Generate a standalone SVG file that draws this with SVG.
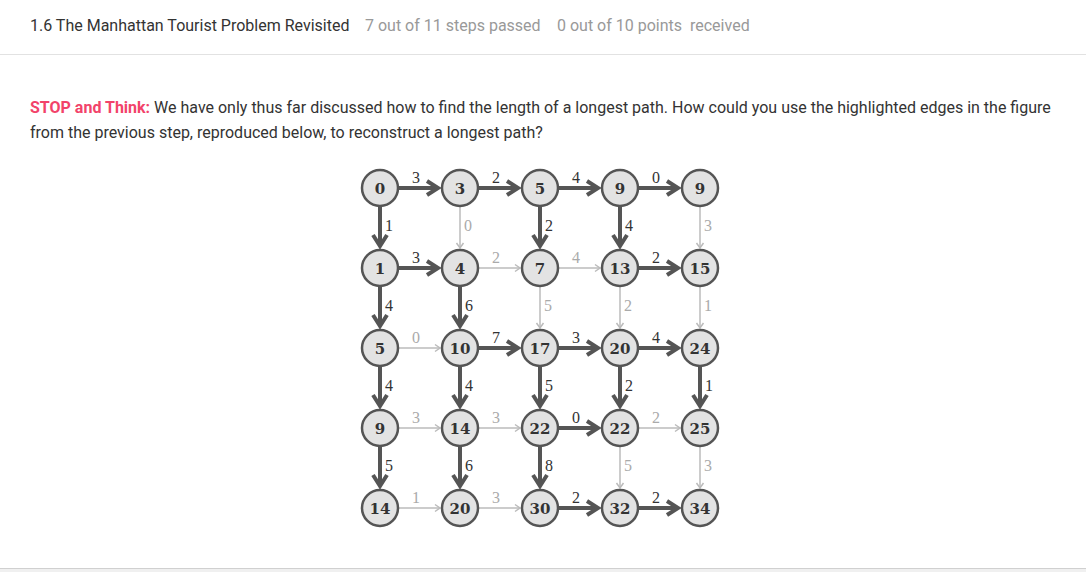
<svg xmlns="http://www.w3.org/2000/svg" width="1086" height="572" viewBox="0 0 1086 572">
<style>
.hdr{font-family:Roboto,"Liberation Sans",sans-serif;font-size:16px;fill:#333}
.gry{font-family:Roboto,"Liberation Sans",sans-serif;font-size:16px;fill:#999}
.par{font-family:Roboto,"Liberation Sans",sans-serif;font-size:16px;fill:#333}
.stop{font-weight:bold;fill:#f2436a}
.node circle{fill:#e3e3e3;stroke:#555;stroke-width:2.5}
.node text{font-family:"DejaVu Serif",serif;font-weight:bold;font-size:15px;fill:#333;text-anchor:middle}
.eb{stroke:#555;stroke-width:4;fill:none;marker-end:url(#ab)}
.el{stroke:#bbb;stroke-width:1.5;fill:none;marker-end:url(#al)}
.lb{font-family:"Liberation Serif",serif;font-size:16px;fill:#333}
.ll{font-family:"Liberation Serif",serif;font-size:16px;fill:#aaa}
.h{text-anchor:middle}
</style>
<defs>
<marker id="ab" markerUnits="userSpaceOnUse" markerWidth="30" markerHeight="30" refX="0" refY="0" orient="auto" overflow="visible"><path d="M-11,-7 L0,0 L-11,7" fill="none" stroke="#555" stroke-width="4"/></marker>
<marker id="al" markerUnits="userSpaceOnUse" markerWidth="20" markerHeight="20" refX="0" refY="0" orient="auto" overflow="visible"><path d="M-5,-3.5 L0,0 L-5,3.5" fill="none" stroke="#bbb" stroke-width="1.5"/></marker>
</defs>
<rect width="1086" height="572" fill="#fff"/>
<g id="header">
<text class="hdr" x="30" y="31">1.6 The Manhattan Tourist Problem Revisited</text>
<text class="gry" x="365" y="31">7 out of 11 steps passed</text>
<text class="gry" x="557" y="31">0 out of 10 points&#160; received</text>
<line x1="0" y1="54.5" x2="1086" y2="54.5" stroke="#e2e2e2" stroke-width="1"/>
</g>
<g id="question">
<text class="par" x="30" y="113"><tspan class="stop">STOP and Think:</tspan> We have only thus far discussed how to find the length of a longest path. How could you use the highlighted edges in the figure</text>
<text class="par" x="30" y="138">from the previous step, reproduced below, to reconstruct a longest path?</text>
</g>
<g id="connectors">
<line class="eb" x1="398" y1="188" x2="438" y2="188"/>
<line class="eb" x1="478" y1="188" x2="518" y2="188"/>
<line class="eb" x1="558" y1="188" x2="598" y2="188"/>
<line class="eb" x1="638" y1="188" x2="678" y2="188"/>
<line class="eb" x1="398" y1="268" x2="438" y2="268"/>
<line class="el" x1="478" y1="268" x2="520" y2="268"/>
<line class="el" x1="558" y1="268" x2="600" y2="268"/>
<line class="eb" x1="638" y1="268" x2="678" y2="268"/>
<line class="el" x1="398" y1="348" x2="440" y2="348"/>
<line class="eb" x1="478" y1="348" x2="518" y2="348"/>
<line class="eb" x1="558" y1="348" x2="598" y2="348"/>
<line class="eb" x1="638" y1="348" x2="678" y2="348"/>
<line class="el" x1="398" y1="428" x2="440" y2="428"/>
<line class="el" x1="478" y1="428" x2="520" y2="428"/>
<line class="eb" x1="558" y1="428" x2="598" y2="428"/>
<line class="el" x1="638" y1="428" x2="680" y2="428"/>
<line class="el" x1="398" y1="508" x2="440" y2="508"/>
<line class="el" x1="478" y1="508" x2="520" y2="508"/>
<line class="eb" x1="558" y1="508" x2="598" y2="508"/>
<line class="eb" x1="638" y1="508" x2="678" y2="508"/>
<line class="eb" x1="380" y1="206" x2="380" y2="246"/>
<line class="eb" x1="380" y1="286" x2="380" y2="326"/>
<line class="eb" x1="380" y1="366" x2="380" y2="406"/>
<line class="eb" x1="380" y1="446" x2="380" y2="486"/>
<line class="el" x1="460" y1="206" x2="460" y2="248"/>
<line class="eb" x1="460" y1="286" x2="460" y2="326"/>
<line class="eb" x1="460" y1="366" x2="460" y2="406"/>
<line class="eb" x1="460" y1="446" x2="460" y2="486"/>
<line class="eb" x1="540" y1="206" x2="540" y2="246"/>
<line class="el" x1="540" y1="286" x2="540" y2="328"/>
<line class="eb" x1="540" y1="366" x2="540" y2="406"/>
<line class="eb" x1="540" y1="446" x2="540" y2="486"/>
<line class="eb" x1="620" y1="206" x2="620" y2="246"/>
<line class="el" x1="620" y1="286" x2="620" y2="328"/>
<line class="eb" x1="620" y1="366" x2="620" y2="406"/>
<line class="el" x1="620" y1="446" x2="620" y2="488"/>
<line class="el" x1="700" y1="206" x2="700" y2="248"/>
<line class="el" x1="700" y1="286" x2="700" y2="328"/>
<line class="eb" x1="700" y1="366" x2="700" y2="406"/>
<line class="el" x1="700" y1="446" x2="700" y2="488"/>
<text class="lb h" x="416" y="183">3</text>
<text class="lb h" x="496" y="183">2</text>
<text class="lb h" x="576" y="183">4</text>
<text class="lb h" x="656" y="183">0</text>
<text class="lb h" x="416" y="263">3</text>
<text class="ll h" x="496" y="263">2</text>
<text class="ll h" x="576" y="263">4</text>
<text class="lb h" x="656" y="263">2</text>
<text class="ll h" x="416" y="343">0</text>
<text class="lb h" x="496" y="343">7</text>
<text class="lb h" x="576" y="343">3</text>
<text class="lb h" x="656" y="343">4</text>
<text class="ll h" x="416" y="423">3</text>
<text class="ll h" x="496" y="423">3</text>
<text class="lb h" x="576" y="423">0</text>
<text class="ll h" x="656" y="423">2</text>
<text class="ll h" x="416" y="503">1</text>
<text class="ll h" x="496" y="503">3</text>
<text class="lb h" x="576" y="503">2</text>
<text class="lb h" x="656" y="503">2</text>
<text class="lb" x="385" y="231">1</text>
<text class="lb" x="385" y="311">4</text>
<text class="lb" x="385" y="391">4</text>
<text class="lb" x="385" y="471">5</text>
<text class="ll" x="464" y="231">0</text>
<text class="lb" x="465" y="311">6</text>
<text class="lb" x="465" y="391">4</text>
<text class="lb" x="465" y="471">6</text>
<text class="lb" x="545" y="231">2</text>
<text class="ll" x="544" y="311">5</text>
<text class="lb" x="545" y="391">5</text>
<text class="lb" x="545" y="471">8</text>
<text class="lb" x="625" y="231">4</text>
<text class="ll" x="624" y="311">2</text>
<text class="lb" x="625" y="391">2</text>
<text class="ll" x="624" y="471">5</text>
<text class="ll" x="704" y="231">3</text>
<text class="ll" x="704" y="311">1</text>
<text class="lb" x="705" y="391">1</text>
<text class="ll" x="704" y="471">3</text>
</g>
<g id="n-0-0" class="node"><circle cx="380" cy="188" r="18"/><text x="380" y="193.5">0</text></g>
<g id="n-1-0" class="node"><circle cx="460" cy="188" r="18"/><text x="460" y="193.5">3</text></g>
<g id="n-2-0" class="node"><circle cx="540" cy="188" r="18"/><text x="540" y="193.5">5</text></g>
<g id="n-3-0" class="node"><circle cx="620" cy="188" r="18"/><text x="620" y="193.5">9</text></g>
<g id="n-4-0" class="node"><circle cx="700" cy="188" r="18"/><text x="700" y="193.5">9</text></g>
<g id="n-0-1" class="node"><circle cx="380" cy="268" r="18"/><text x="380" y="273.5">1</text></g>
<g id="n-1-1" class="node"><circle cx="460" cy="268" r="18"/><text x="460" y="273.5">4</text></g>
<g id="n-2-1" class="node"><circle cx="540" cy="268" r="18"/><text x="540" y="273.5">7</text></g>
<g id="n-3-1" class="node"><circle cx="620" cy="268" r="18"/><text x="620" y="273.5">13</text></g>
<g id="n-4-1" class="node"><circle cx="700" cy="268" r="18"/><text x="700" y="273.5">15</text></g>
<g id="n-0-2" class="node"><circle cx="380" cy="348" r="18"/><text x="380" y="353.5">5</text></g>
<g id="n-1-2" class="node"><circle cx="460" cy="348" r="18"/><text x="460" y="353.5">10</text></g>
<g id="n-2-2" class="node"><circle cx="540" cy="348" r="18"/><text x="540" y="353.5">17</text></g>
<g id="n-3-2" class="node"><circle cx="620" cy="348" r="18"/><text x="620" y="353.5">20</text></g>
<g id="n-4-2" class="node"><circle cx="700" cy="348" r="18"/><text x="700" y="353.5">24</text></g>
<g id="n-0-3" class="node"><circle cx="380" cy="428" r="18"/><text x="380" y="433.5">9</text></g>
<g id="n-1-3" class="node"><circle cx="460" cy="428" r="18"/><text x="460" y="433.5">14</text></g>
<g id="n-2-3" class="node"><circle cx="540" cy="428" r="18"/><text x="540" y="433.5">22</text></g>
<g id="n-3-3" class="node"><circle cx="620" cy="428" r="18"/><text x="620" y="433.5">22</text></g>
<g id="n-4-3" class="node"><circle cx="700" cy="428" r="18"/><text x="700" y="433.5">25</text></g>
<g id="n-0-4" class="node"><circle cx="380" cy="508" r="18"/><text x="380" y="513.5">14</text></g>
<g id="n-1-4" class="node"><circle cx="460" cy="508" r="18"/><text x="460" y="513.5">20</text></g>
<g id="n-2-4" class="node"><circle cx="540" cy="508" r="18"/><text x="540" y="513.5">30</text></g>
<g id="n-3-4" class="node"><circle cx="620" cy="508" r="18"/><text x="620" y="513.5">32</text></g>
<g id="n-4-4" class="node"><circle cx="700" cy="508" r="18"/><text x="700" y="513.5">34</text></g>
<g id="footer">
<line x1="0" y1="568.5" x2="1086" y2="568.5" stroke="#d0d0d0" stroke-width="1"/>
<rect x="0" y="569" width="1086" height="3" fill="#f0f0f0"/>
</g>
</svg>
